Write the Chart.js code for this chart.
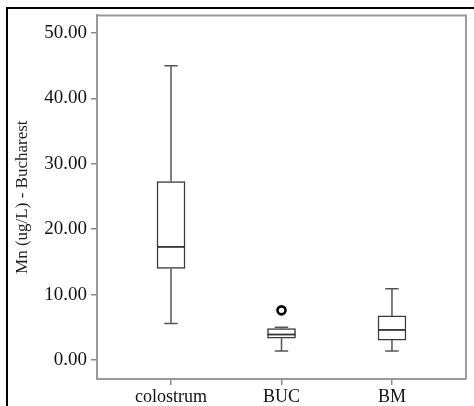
<!DOCTYPE html>
<html>
<head>
<meta charset="utf-8">
<script src="https://cdn.jsdelivr.net/npm/chart.js@4"></script>
<style>
  html, body { margin: 0; padding: 0; background: #fff; }
  #wrap { position: relative; width: 474px; height: 406px; overflow: hidden; }
  #frame {
    position: absolute; left: 6px; top: 7px; width: 480px; height: 420px;
    border-left: 2px solid #000; border-top: 2px solid #000; pointer-events: none;
  }
</style>
</head>
<body>
<div id="wrap">
  <canvas id="boxChart" width="474" height="406"></canvas>
  <div id="frame"></div>
</div>
<script>
  // box plot values
  const categories = ['colostrum', 'BUC', 'BM'];
  const whiskerLow = [5.6, 1.4, 1.4];
  const q1 = [14.0, 3.35, 3.05];
  const medians = [17.3, 3.9, 4.6];
  const q3 = [27.3, 4.8, 6.75];
  const whiskerHigh = [45.0, 5.0, 10.9];
  const outlierIndex = [1];
  const outlierValue = [7.6];
  const yTicks = [0, 10, 20, 30, 40, 50];

  const serif = '"Liberation Serif", "Times New Roman", serif';

  // whiskers, caps, medians and the top/right frame, all placed via the scales
  const boxExtras = {
    id: 'boxExtras',
    afterDatasetsDraw(chart) {
      const ctx = chart.ctx;
      const xs = chart.scales.x;
      const ys = chart.scales.y;
      const bars = chart.getDatasetMeta(0).data;
      ctx.save();
      ctx.lineCap = 'butt';
      categories.forEach((c, i) => {
        const x = xs.getPixelForValue(i);
        const half = bars[i].width / 2;
        // whiskers
        ctx.strokeStyle = '#555';
        ctx.lineWidth = 1.5;
        ctx.beginPath();
        ctx.moveTo(x, ys.getPixelForValue(q3[i]));
        ctx.lineTo(x, ys.getPixelForValue(whiskerHigh[i]));
        ctx.moveTo(x, ys.getPixelForValue(q1[i]));
        ctx.lineTo(x, ys.getPixelForValue(whiskerLow[i]));
        ctx.stroke();
        // caps
        const capHalf = half * 0.48;
        ctx.beginPath();
        [whiskerHigh[i], whiskerLow[i]].forEach(v => {
          const y = ys.getPixelForValue(v);
          ctx.moveTo(x - capHalf, y);
          ctx.lineTo(x + capHalf, y);
        });
        ctx.stroke();
        // median
        ctx.strokeStyle = '#333';
        ctx.lineWidth = 1.8;
        const ym = ys.getPixelForValue(medians[i]);
        ctx.beginPath();
        ctx.moveTo(x - half, ym);
        ctx.lineTo(x + half, ym);
        ctx.stroke();
      });
      // top and right edges of the plot frame
      const a = chart.chartArea;
      ctx.strokeStyle = '#999';
      ctx.lineWidth = 2;
      ctx.beginPath();
      ctx.moveTo(a.left, a.top);
      ctx.lineTo(a.right, a.top);
      ctx.lineTo(a.right, a.bottom);
      ctx.stroke();
      ctx.restore();
    }
  };

  new Chart(document.getElementById('boxChart'), {
    type: 'bar',
    data: {
      datasets: [{
        label: 'box',
        data: categories.map((c, i) => ({ x: i, y: [q1[i], q3[i]] })),
        backgroundColor: '#fff',
        borderColor: '#3a3a3a',
        borderWidth: 1.5,
        borderSkipped: false,
        barThickness: 28
      }, {
        type: 'scatter',
        label: 'outliers',
        data: outlierIndex.map((c, i) => ({ x: c, y: outlierValue[i] })),
        pointStyle: 'circle',
        pointRadius: 4,
        pointBorderWidth: 2.6,
        pointBorderColor: '#000',
        pointBackgroundColor: '#fff'
      }]
    },
    options: {
      responsive: false,
      devicePixelRatio: 1,
      animation: false,
      layout: { padding: { top: 14, right: 8, bottom: 0, left: 0 } },
      plugins: {
        legend: { display: false },
        tooltip: { enabled: false }
      },
      scales: {
        x: {
          type: 'linear',
          offset: false,
          min: -0.67,
          max: 2.67,
          afterBuildTicks: s => { s.ticks = categories.map((c, i) => ({ value: i })); },
          afterFit: s => { s.height = 27; },
          grid: { drawOnChartArea: false, offset: false, tickLength: 6, color: '#888', lineWidth: 1.5 },
          border: { color: '#999', width: 2 },
          ticks: {
            callback: v => categories[v] ?? '',
            font: { family: serif, size: 18 },
            color: '#111',
            padding: 1,
            maxRotation: 0
          }
        },
        y: {
          min: -2.9,
          max: 52.7,
          afterBuildTicks: s => { s.ticks = yTicks.map(v => ({ value: v })); },
          afterFit: s => { s.width = 97; },
          grid: { drawOnChartArea: false, tickLength: 6, color: '#888', lineWidth: 1.5 },
          border: { color: '#999', width: 2 },
          ticks: {
            callback: v => v.toFixed(2),
            font: { family: serif, size: 19 },
            color: '#111',
            padding: 4
          },
          title: {
            display: true,
            text: 'Mn (ug/L) - Bucharest',
            font: { family: serif, size: 17 },
            color: '#1e1e1e',
            padding: { top: 12, bottom: 0 }
          }
        }
      }
    },
    plugins: [boxExtras]
  });
</script>
</body>
</html>
